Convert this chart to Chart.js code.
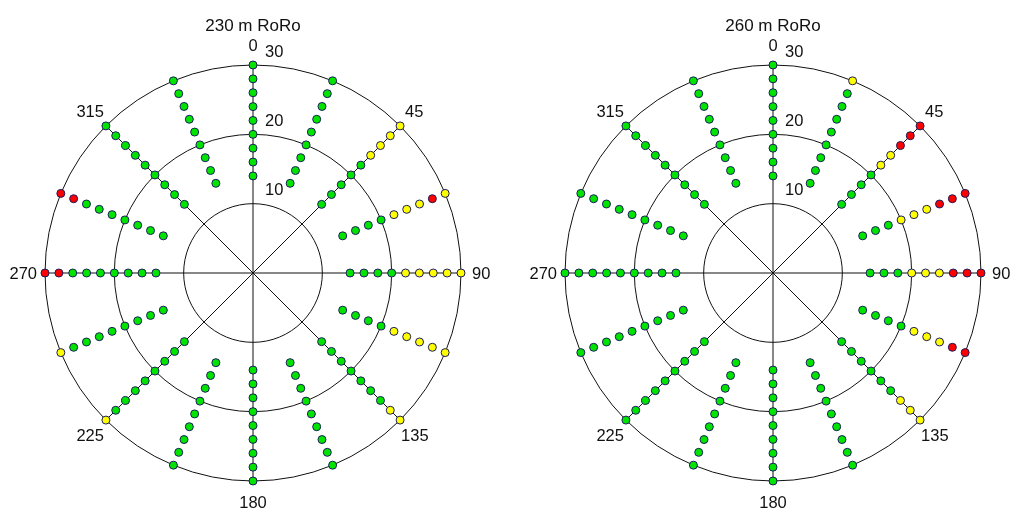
<!DOCTYPE html>
<html>
<head>
<meta charset="utf-8">
<script src="https://cdn.jsdelivr.net/npm/chart.js@4.4.1/dist/chart.umd.min.js"></script>
<style>
  html, body { margin: 0; padding: 0; background: #fff; }
  body { width: 1012px; height: 510px; position: relative; overflow: hidden; }
  canvas { position: absolute; top: 0; }
  #left { left: 0; }
  #right { left: 520px; }
</style>
</head>
<body>
<canvas id="left" width="506" height="510"></canvas>
<canvas id="right" width="492" height="510"></canvas>
<script>
const directions = ['0', '22.5', '45', '67.5', '90', '112.5', '135', '157.5',
                    '180', '202.5', '225', '247.5', '270', '292.5', '315', '337.5'];
const radii = [14, 16, 18, 20, 22, 24, 26, 28, 30];
const ringTicks = [10, 20, 30];
const labelledDirections = ['0', '45', '90', '135', '180', '225', '270', '315'];

const title230 = '230 m RoRo';
const title260 = '260 m RoRo';

// one row per radius (14 -> 30), one letter per direction: g = ok, y = marginal, r = exceeded
const status230 = [
    'gggggggggggggggg', // 14
    'gggggggggggggggg', // 16
    'gggggggggggggggg', // 18
    'gggggggggggggggg', // 20
    'gggyyygggggggggg', // 22
    'ggyyyygggggggggg', // 24
    'ggyyyygggggggggg', // 26
    'ggyryyygggggrrgg', // 28
    'ggyyyyygggyyrrgg'  // 30
];
const status260 = [
    'gggggggggggggggg', // 14
    'gggggggggggggggg', // 16
    'gggggggggggggggg', // 18
    'gggyyggggggggggg', // 20
    'ggyyyygggggggggg', // 22
    'ggyyyygggggggggg', // 24
    'ggrrryyggggggggg', // 26
    'ggrrrryggggggggg', // 28
    'gyrrrryggggggggg'  // 30
];

const FILL = { g: '#00e400', y: '#ffff00', r: '#ff0000' };
const FONT = "'Liberation Sans', Arial, sans-serif";

/* ---------- label placement around the outer ring ---------- */
// [textAlign, dx, dy] relative to the point where the direction meets the outer ring
const labelOffsets = {
    '0':   ['center', 0, -14],
    '45':  ['left', 5, -8.5],
    '90':  ['left', 11, 6],
    '135': ['left', 1, 21],
    '180': ['center', 0, 27],
    '225': ['right', -2, 21],
    '270': ['right', -8, 6],
    '315': ['right', -2, -8.5]
};

const polarText = {
    id: 'polarText',
    afterDraw(chart) {
        const s = chart.scales.r;
        const ctx = chart.ctx;
        ctx.save();
        ctx.font = '16.5px ' + FONT;
        ctx.fillStyle = '#111';
        ctx.textBaseline = 'alphabetic';
        labelledDirections.forEach(d => {
            const i = directions.indexOf(d);
            const p = s.getPointPosition(i, s.drawingArea);
            const [align, dx, dy] = labelOffsets[d];
            ctx.textAlign = align;
            ctx.fillText(d, p.x + dx, p.y + dy);
        });
        ctx.textAlign = 'left';
        ringTicks.forEach(v => {
            const dist = s.getDistanceFromCenterForValue(v);
            ctx.fillText(String(v), s.xCenter + 12, s.yCenter - dist - 8.5);
        });
        ctx.restore();
    }
};

function makeChart(id, title, status, padLeft, padRight) {
    const datasets = radii.map((r, k) => ({
        label: r + ' m',
        data: directions.map(() => r),
        pointBackgroundColor: status[k].split('').map(c => FILL[c]),
        pointBorderColor: '#1c1c5c',
        pointBorderWidth: 1,
        pointRadius: 4,
        showLine: false,
        fill: false,
        borderWidth: 0,
        clip: false
    }));

    return new Chart(document.getElementById(id), {
        type: 'radar',
        data: { labels: directions, datasets: datasets },
        options: {
            responsive: false,
            animation: false,
            layout: { padding: { left: padLeft, right: padRight, top: 0, bottom: 27 } },
            plugins: {
                legend: { display: false },
                tooltip: { enabled: false },
                title: {
                    display: true,
                    text: title,
                    color: '#111',
                    font: { family: FONT, size: 17, weight: 'normal', lineHeight: 1.2 },
                    padding: { top: 16, bottom: 28 }
                }
            },
            scales: {
                r: {
                    min: 0,
                    max: 30,
                    ticks: { display: false, stepSize: 10 },
                    grid: { circular: true, color: '#111', lineWidth: 1 },
                    angleLines: {
                        display: true,
                        color: '#111',
                        lineWidth: c => labelledDirections.includes(directions[c.index]) ? 1 : 0
                    },
                    pointLabels: { display: false }
                }
            }
        },
        plugins: [polarText]
    });
}

makeChart('left', title230, status230, 45, 45);
makeChart('right', title260, status260, 45, 31);
</script>
</body>
</html>
